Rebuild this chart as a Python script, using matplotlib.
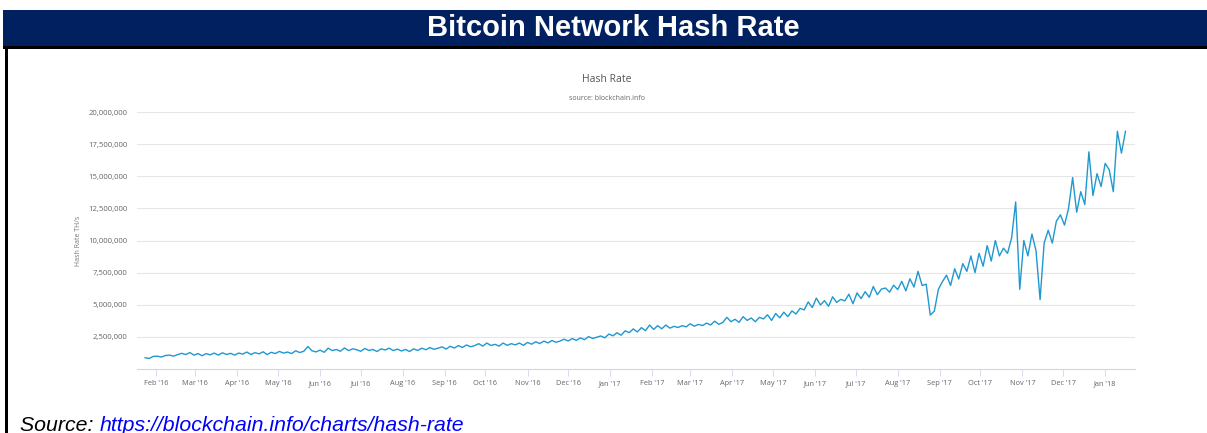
import matplotlib
matplotlib.use("Agg")
from matplotlib import pyplot as plt
import matplotlib.dates as mdates
import matplotlib.ticker as mticker
import numpy as np
import pandas as pd

# hash rate, millions of TH/s, one reading every 3 days from 24 Jan 2016
start_date = "2016-01-24"
step_days = 3
hash_2016 = [
    0.88, 0.82, 0.98, 1.0, 0.93, 1.05, 1.08, 1.0, 1.12, 1.22, 1.12, 1.28,   # late Jan - Feb
    1.08, 1.2, 1.03, 1.2, 1.1, 1.24, 1.08, 1.26, 1.13, 1.22,                # Mar
    1.08, 1.24, 1.16, 1.32, 1.13, 1.27, 1.18, 1.34, 1.12, 1.3,              # Apr
    1.2, 1.37, 1.24, 1.32, 1.2, 1.42, 1.28, 1.38, 1.75, 1.42,               # May
    1.33, 1.47, 1.3, 1.62, 1.43, 1.52, 1.38, 1.64, 1.43, 1.57,              # Jun
    1.5, 1.38, 1.6, 1.44, 1.52, 1.36, 1.57, 1.48, 1.62, 1.43,               # Jul
    1.55, 1.4, 1.52, 1.36, 1.57, 1.44, 1.62, 1.5, 1.67, 1.53,               # Aug
    1.62, 1.72, 1.55, 1.77, 1.63, 1.82, 1.68, 1.87, 1.73, 1.82,             # Sep
    1.97, 1.78, 2.02, 1.83, 1.92, 1.78, 2.02, 1.84, 1.97, 1.88,             # Oct
    2.02, 1.84, 2.07, 1.93, 2.12, 1.98, 2.17, 2.03, 2.22, 2.08,             # Nov
    2.17, 2.32, 2.18, 2.37, 2.23, 2.42, 2.28, 2.52, 2.38, 2.47,             # Dec
]
hash_2017 = [
    2.57, 2.43, 2.72, 2.58, 2.82, 2.63, 2.97, 2.83, 3.12, 2.88,             # Jan
    3.22, 2.98, 3.42, 3.08, 3.37, 3.13, 3.42, 3.18, 3.32, 3.23,             # Feb
    3.37, 3.28, 3.52, 3.33, 3.47, 3.38, 3.57, 3.43, 3.72, 3.48,             # Mar
    3.62, 4.02, 3.68, 3.87, 3.63, 4.07, 3.78, 3.97, 3.68, 4.02,             # Apr
    3.9, 4.22, 3.78, 4.32, 3.98, 4.42, 4.08, 4.52, 4.28, 4.72,              # May
    4.6, 5.22, 4.78, 5.52, 4.98, 5.32, 4.88, 5.62, 5.18, 5.42,              # Jun
    5.3, 5.82, 5.08, 5.92, 5.48, 6.02, 5.58, 6.42, 5.78, 6.22,              # Jul
    6.3, 5.98, 6.52, 6.18, 6.82, 6.08, 7.02, 6.38, 7.6, 6.5,                # Aug
    6.6, 4.2, 4.5, 6.2, 6.8, 7.3, 6.5, 7.8, 7.0, 8.2,                       # Sep
    7.6, 8.8, 7.5, 9.0, 8.0, 9.6, 8.4, 10.0, 8.8, 9.4,                      # Oct
    9.0, 10.2, 13.0, 6.2, 10.0, 8.8, 10.5, 9.2, 5.4, 9.8,                   # Nov
    10.8, 9.8, 11.5, 12.0, 11.2, 12.5, 14.9, 12.2, 13.8, 12.8,              # Dec
]
hash_2018 = [16.9, 13.5, 15.2, 14.2, 16.0, 15.5, 13.8, 18.5, 16.8, 18.5]    # Jan

y_ticks = [2500000, 5000000, 7500000, 10000000, 12500000, 15000000, 17500000, 20000000]

values = np.array(hash_2016 + hash_2017 + hash_2018) * 1e6
dates = pd.date_range(start_date, periods=len(values), freq=f"{step_days}D")

W, H = 1207, 433
fig = plt.figure(figsize=(W / 100, H / 100), dpi=100)

# header band
fig.patches.append(plt.Rectangle((3 / W, 1 - 46 / H), 1, 36 / H, transform=fig.transFigure,
                                 facecolor="#002060", edgecolor="none"))
fig.patches.append(plt.Rectangle((3 / W, 1 - 48.5 / H), 1, 2.5 / H, transform=fig.transFigure,
                                 facecolor="black", edgecolor="none"))
fig.patches.append(plt.Rectangle((5 / W, 0), 2.5 / W, 1 - 48 / H, transform=fig.transFigure,
                                 facecolor="black", edgecolor="none"))
fig.text(613 / W, 1 - 28.5 / H, "Bitcoin Network Hash Rate", color="white", fontsize=21,
         fontweight="bold", family="Liberation Sans", ha="center", va="center")

# chart titles
fig.text(607 / W, 1 - 80 / H, "Hash Rate", color="#555555", fontsize=7.5,
         family="Open Sans", ha="center", va="center")
fig.text(607 / W, 1 - 98 / H, "source: blockchain.info", color="#666666", fontsize=5,
         family="Open Sans", ha="center", va="center")

ax = fig.add_axes([137 / W, (H - 369) / H, (1135 - 137) / W, (369 - 112) / H])
ax.plot(dates, values, color="#1f98d0", lw=1.0)

ax.set_ylim(0, 20000000)
ax.set_xlim(pd.Timestamp("2016-01-18"), pd.Timestamp("2018-01-23"))
ax.set_yticks(y_ticks)
ax.yaxis.set_major_formatter(mticker.FuncFormatter(lambda v, p: f"{v:,.0f}"))
ax.xaxis.set_major_locator(mdates.MonthLocator())
ax.xaxis.set_major_formatter(mdates.DateFormatter("%b '%y"))

ax.grid(axis="y", color="#e6e6e6", lw=0.8)
ax.set_axisbelow(True)
for s in ["top", "right", "left"]:
    ax.spines[s].set_visible(False)
ax.spines["bottom"].set_color("#ccd6eb")
ax.spines["bottom"].set_linewidth(0.8)
ax.tick_params(axis="y", length=0, pad=7, labelsize=5.6, labelcolor="#666666")
ax.tick_params(axis="x", length=5, width=0.6, color="#ccd6eb", pad=3, labelsize=5.3,
               labelcolor="#666666")
for lab in ax.get_xticklabels() + ax.get_yticklabels():
    lab.set_family("Open Sans")
ax.set_ylabel("Hash Rate TH/s", fontsize=5, color="#777777", family="Open Sans", labelpad=4)

# footer source line (cut at the bottom edge, as in the original)
src = fig.text(20 / W, 1 - 431 / H, "Source: ", fontsize=15.3, style="italic",
               family="Liberation Sans", color="black", ha="left", va="baseline")
fig.canvas.draw()
bb = src.get_window_extent()
fig.text(bb.x1 / W, 1 - 431 / H, "https://blockchain.info/charts/hash-rate", fontsize=15.3,
         style="italic", family="Liberation Sans", color="#0000ff", ha="left", va="baseline")

plt.savefig("out.png", dpi=100)
